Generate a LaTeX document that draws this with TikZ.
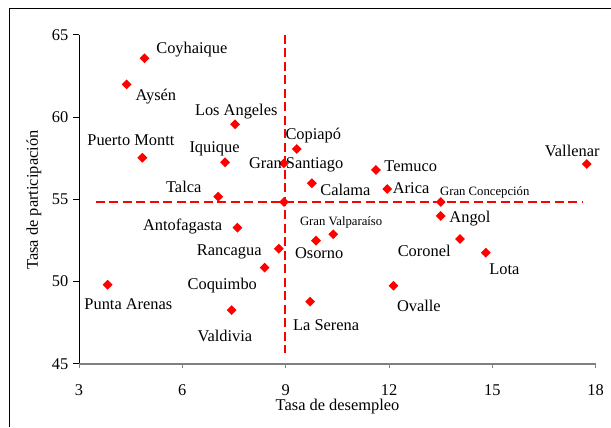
\documentclass[tikz,border=0pt]{standalone}
\usepackage{fontspec}
\setmainfont{Liberation Serif}
\usetikzlibrary{shapes.geometric}
\newcommand{\lblsmall}{\fontsize{12.7}{15}\selectfont}

\begin{document}
\begin{tikzpicture}[x=34.444pt, y=16.45pt, font=\fontsize{16.4}{19}\selectfont,
  pto/.style={diamond, fill=red, inner sep=0pt, minimum width=10pt, minimum height=10pt},
  lbl/.style={inner sep=0pt, text height=1.5ex, text depth=.25ex, yshift=-2.5pt},
  corte/.style={red, line width=1.8pt, dash pattern=on 9pt off 4.5pt}]
  \useasboundingbox (0.706,41.152) rectangle (18.445,67.11);
  \draw[line width=0.9pt] (18.445,66.623) -| (0.982,41.152);

  % ejes
  \draw (3,45) -- (3,65);
  \foreach \w in {45,50,...,65}
    \draw (3,\w) -- ++(-6pt,0) node[left, inner sep=4.5pt] {\w};
  \draw[draw=gray, line width=1.8pt] (3,45) -- (18,45);
  \foreach \v in {3,6,...,18}
    \draw[draw=gray, line width=1pt] (\v,45) -- ++(0,-4.7pt) node[below=12pt] {\v};
  \node[rotate=90] (ytit) at (1.694,54.95) {Tasa de participación};
  \node (xtit) at (10.505,42.42) {Tasa de desempleo};

  % promedios
  \coordinate (hA) at (3.485,54.83);
  \coordinate (hB) at (17.64,54.83);
  \coordinate (vA) at (8.97,65);
  \coordinate (vB) at (8.97,45.63);
  \draw[corte] (hA) -- (hB);
  \draw[corte] (vA) -- (vB);
  \node[pto] (pais) at (8.95,54.83) {};

  \foreach \v/\w/\a/\dx/\dy/\txt [count=\i] in {
    4.90/63.57/west/11.7/10.3/Coyhaique,
    4.38/61.98/west/9/-10.7/Aysén,
    7.53/59.55/center/1.2/14.3/Los Angeles,
    4.84/57.52/center/-11.5/17.7/Puerto Montt,
    7.24/57.24/center/-10.5/15.6/Iquique,
    8.95/57.18/center/12.3/0/Gran Santiago,
    9.32/58.05/center/16.6/15/Copiapó,
    7.04/55.15/east/-16.6/10/Talca,
    9.76/55.97/west/8.3/-6.7/Calama,
    11.62/56.78/west/8.3/3.3/Temuco,
    11.95/55.62/west/5.4/0.7/Arica,
    13.50/54.83/west/-0.7/12/{\lblsmall Gran Concepción},
    17.74/57.14/center/-14.5/13.3/Vallenar,
    13.50/53.98/west/8.6/-1.3/Angol,
    7.60/53.27/east/-15/2.7/Antofagasta,
    8.80/51.99/east/-17/-1.3/Rancagua,
    8.39/50.84/center/-42.4/-16.3/Coquimbo,
    3.83/49.80/center/20.8/-19.6/Punta Arenas,
    7.43/48.26/center/-6.7/-25.7/Valdivia,
    9.71/48.77/center/16/-23.3/La Serena,
    9.88/52.48/center/3.2/-12/Osorno,
    10.38/52.87/center/7.9/14.3/{\lblsmall Gran Valparaíso},
    14.06/52.58/center/-35.8/-11.7/Coronel,
    14.81/51.75/center/18.6/-16.6/Lota,
    12.13/49.74/center/25.4/-20.3/Ovalle} {
    \node[pto] (p\i) at (\v,\w) {};
    \node[lbl, anchor=\a] (l\i) at ([shift={(\dx pt,\dy pt)}]p\i.center) {\txt};
  }
\end{tikzpicture}
\end{document}
